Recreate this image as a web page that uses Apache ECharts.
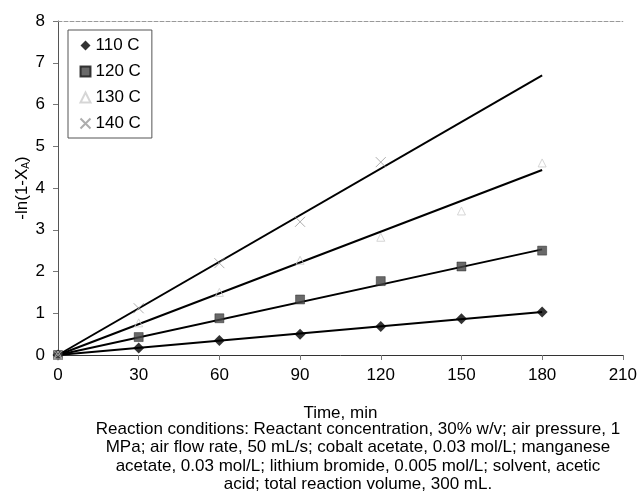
<!DOCTYPE html>
<html>
	<head>
		<meta charset="utf-8">
		<title>-ln(1-XA) vs time</title>
		<script src="https://cdn.jsdelivr.net/npm/echarts@6/dist/echarts.min.js"></script>
		<style>
			html, body { margin: 0; padding: 0; background: #fff; }
			#main { width: 640px; height: 493px; }
		</style>
	</head>
	<body>
		<div id="main"></div>
		<script>
		// data
		var times = [0, 30, 60, 90, 120, 150, 180];
		var t110 = [0, 0.17, 0.35, 0.50, 0.68, 0.87, 1.03];
		var t120 = [0, 0.43, 0.88, 1.33, 1.77, 2.12, 2.50];
		var t130 = [0, 0.77, 1.50, 2.27, 2.82, 3.45, 4.60];
		var t140 = [0, 1.12, 2.20, 3.19, 4.62, null, null];
		var seriesNames = ['110 C', '120 C', '130 C', '140 C'];
		// fitted lines through origin: value at t = 180
		var fitStart = [0, 0];
		var fitEnd = [1.03, 2.53, 4.43, 6.70];
		var xTicks = [0, 30, 60, 90, 120, 150, 180, 210];
		var yTicks = [0, 1, 2, 3, 4, 5, 6, 7, 8];
		var caption = [
			'Reaction conditions: Reactant concentration, 30% w/v; air pressure, 1',
			'MPa; air flow rate, 50 mL/s; cobalt acetate, 0.03 mol/L; manganese',
			'acetate, 0.03 mol/L; lithium bromide, 0.005 mol/L; solvent, acetic',
			'acid; total reaction volume, 300 mL.'
		];

		var font = '"Liberation Sans", Arial, sans-serif';
		var crossPath = 'path://M0,0L10,10M10,0L0,10';

		function pairs(ys) {
			var out = [];
			for (var i = 0; i < times.length; i++) {
				if (ys[i] !== null) out.push([times[i], ys[i]]);
			}
			return out;
		}

		var marks = [
			{ data: t110, symbol: 'diamond', size: 11, style: { color: '#000' } },
			{ data: t120, symbol: 'rect', size: 9, style: { color: '#444', borderColor: '#111', borderWidth: 0.5 } },
			{ data: t130, symbol: 'triangle', size: 8, style: { color: 'none', borderColor: '#ccc', borderWidth: 1 } },
			{ data: t140, symbol: crossPath, size: 10, style: { color: 'none', borderColor: '#999', borderWidth: 1 } }
		];

		var series = [];
		for (var i = 0; i < fitEnd.length; i++) {
			series.push({
				type: 'line',
				data: [[times[0], fitStart[1]], [times[times.length - 1], fitEnd[i]]],
				symbol: 'none',
				lineStyle: { color: '#000', width: 2 },
				silent: true,
				z: 2
			});
		}
		marks.forEach(function (m, i) {
			series.push({
				name: seriesNames[i],
				type: 'scatter',
				data: pairs(m.data),
				symbol: m.symbol,
				symbolSize: m.size,
				itemStyle: m.style,
				z: 3
			});
		});

		var myChart = echarts.init(document.getElementById('main'));
		var option = {
			animation: false,
			backgroundColor: '#fff',
			textStyle: { fontFamily: font },
			grid: { left: 58, right: 16, top: 21, bottom: 138 },
			legend: {
				data: seriesNames,
				orient: 'vertical',
				left: 68,
				top: 30,
				padding: [7, 11, 6, 10],
				itemGap: 9,
				itemWidth: 10,
				itemHeight: 10,
				itemTextGap: 5,
				borderColor: '#555',
				borderWidth: 1,
				textStyle: { fontFamily: font, fontSize: 17, color: '#000', lineHeight: 17 }
			},
			xAxis: [{
				type: 'value',
				min: xTicks[0],
				max: xTicks[xTicks.length - 1],
				interval: 30,
				name: 'Time, min',
				nameLocation: 'middle',
				nameGap: 50,
				nameMoveOverlap: false,
				nameTextStyle: { fontFamily: font, fontSize: 17, color: '#000' },
				axisLine: { lineStyle: { color: '#333', width: 1 } },
				axisTick: { show: true, length: 5, lineStyle: { color: '#777' } },
				axisLabel: { fontFamily: font, fontSize: 17, color: '#000', margin: 12 },
				splitLine: { show: false }
			}, {
				type: 'value',
				position: 'top',
				min: xTicks[0],
				max: xTicks[xTicks.length - 1],
				axisLine: { show: true, lineStyle: { color: '#999', type: 'dashed', width: 1 } },
				axisTick: { show: false },
				axisLabel: { show: false },
				splitLine: { show: false }
			}],
			yAxis: {
				type: 'value',
				min: yTicks[0],
				max: yTicks[yTicks.length - 1],
				interval: 1,
				name: '-ln(1-X{sub|A})',
				nameLocation: 'middle',
				nameGap: 27,
				nameMoveOverlap: false,
				nameTextStyle: {
					fontFamily: font, fontSize: 17, color: '#000',
					rich: { sub: { fontFamily: font, fontSize: 10, color: '#000', verticalAlign: 'bottom', padding: [6, 0, 0, 0] } }
				},
				axisLine: { show: true, lineStyle: { color: '#555', width: 1 } },
				axisTick: { show: true, length: 5, lineStyle: { color: '#777' } },
				axisLabel: { fontFamily: font, fontSize: 17, color: '#000', margin: 13 },
				splitLine: { show: false }
			},
			graphic: [{
				type: 'text',
				x: 358,
				y: 420,
				style: {
					text: caption.join('\n'),
					align: 'center',
					verticalAlign: 'top',
					fontFamily: font,
					fontSize: 17,
					lineHeight: 18.5,
					fill: '#000'
				}
			}],
			series: series
		};
		myChart.setOption(option);
		</script>
	</body>
</html>
